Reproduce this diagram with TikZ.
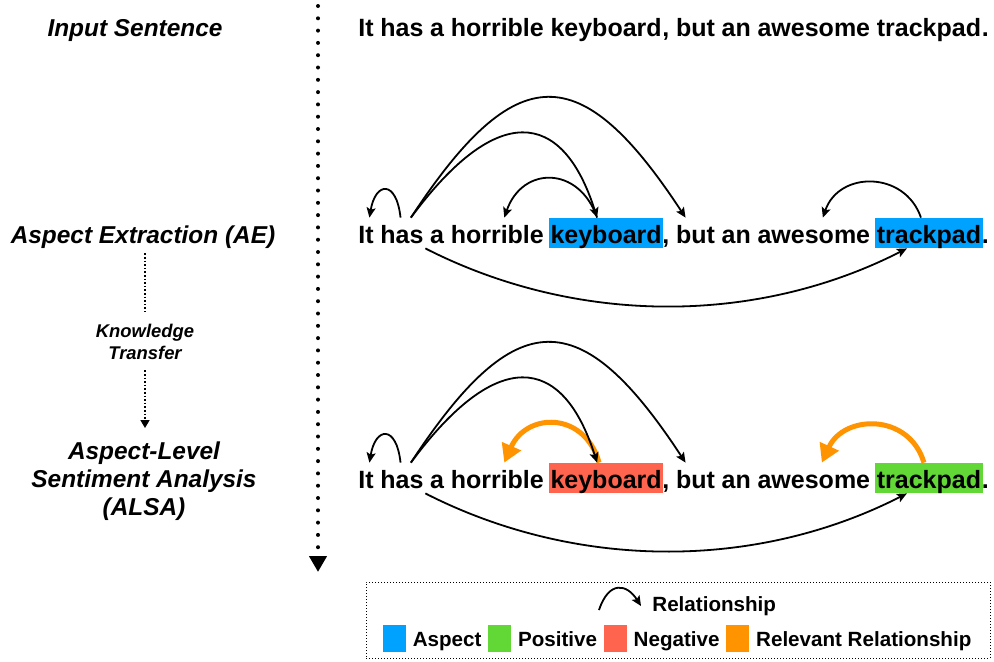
\documentclass[tikz,border=0pt]{standalone}
\usepackage{fontspec}
\setmainfont{Liberation Sans}
\usetikzlibrary{positioning,arrows.meta}

\definecolor{aspect}{HTML}{00A2FF}
\definecolor{positive}{HTML}{61D836}
\definecolor{negative}{HTML}{FF644E}
\definecolor{relevant}{HTML}{FF9300}

\newcommand\sentfont{\fontsize{12.5}{15}\selectfont\bfseries}
\newcommand\stagefont{\fontsize{12.2}{14}\selectfont\bfseries\itshape}
\newcommand\ktfont{\fontsize{9.2}{11}\selectfont\bfseries\itshape}
\newcommand\legfont{\fontsize{10.3}{12}\selectfont\bfseries}

\tikzset{
 word/.style={inner xsep=0.75pt,inner ysep=0pt,text height=12.5pt,text depth=2.5pt,font=\sentfont},
 stage/.style={inner sep=0pt,font=\stagefont,align=center},
 rel/.style={line width=0.9pt,-{Stealth[length=5pt,width=4.5pt,inset=1pt]}},
 relevant/.style={line width=2.5pt,draw=relevant,-{Triangle[length=9pt,width=10pt]}},
 transfer/.style={densely dotted,line width=0.8pt},
 timeline/.style={line width=2pt,line cap=round,dash pattern=on 0pt off 6.15pt,-{Triangle[length=8pt,width=8.5pt]}},
 legframe/.style={draw,densely dotted,line width=0.5pt},
 legtext/.style={inner sep=0pt,text height=7.5pt,text depth=0pt,font=\legfont},
 swatch/.style={inner sep=0pt,minimum width=11.5pt,minimum height=13.5pt}
}

\begin{document}
\begin{tikzpicture}[x=0.5pt,y=-0.5pt,node distance=1.45pt]
 \useasboundingbox (0,0) rectangle (994,661);

 \node[stage,anchor=base] (lbl-input) at (135,36) {Input Sentence};
 \node[stage,anchor=base] (lbl-ae) at (143,243) {Aspect Extraction (AE)};
 \node[stage,anchor=north,font=\ktfont] (lbl-kt) at (145,324) {Knowledge\\Transfer};
 \node[stage,anchor=north] (lbl-alsa) at (144,441.5) {Aspect-Level\\Sentiment Analysis\\(ALSA)};
 \draw[transfer,shorten <=2.5pt,shorten >=6pt] (lbl-ae.south -| lbl-kt.north) -- (lbl-kt.north);
 \draw[transfer,shorten <=5pt,shorten >=6.75pt,-{Triangle[length=4pt,width=4.5pt]}] (lbl-kt.south) -- (lbl-kt.south |- lbl-alsa.north);

 \coordinate (tl-top) at (318,6);
 \coordinate (tl-end) at (318,572);
 \draw[timeline] (tl-top) -- (tl-end);

 \foreach \r/\yy/\kc/\tc in {input/36/none/none,ae/243/aspect/aspect,alsa/488/negative/positive}{
  \node[word,anchor=base west] (\r-it) at (356.5,\yy) {It};
  \node[word,base right=of \r-it] (\r-has) {has};
  \node[word,base right=of \r-has] (\r-a) {a};
  \node[word,base right=of \r-a] (\r-horrible) {horrible};
  \node[word,fill=\kc,base right=of \r-horrible] (\r-keyboard) {keyboard};
  \node[word,base right=-1.5pt of \r-keyboard] (\r-comma) {,};
  \node[word,base right=of \r-comma] (\r-but) {but};
  \node[word,base right=of \r-but] (\r-an) {an};
  \node[word,base right=of \r-an] (\r-awesome) {awesome};
  \node[word,fill=\tc,base right=of \r-awesome] (\r-trackpad) {trackpad};
  \node[word,base right=-1.5pt of \r-trackpad] (\r-dot) {.};
 }

 \draw[relevant] ([xshift=-3.5pt]alsa-keyboard.north) .. controls +(-15,-52) and +(22,-50) .. ([xshift=3.5pt]alsa-horrible.north);
 \draw[relevant] ([xshift=-2.5pt]alsa-trackpad.north) .. controls +(-15,-50) and +(22,-48) .. ([xshift=4pt]alsa-awesome.north);

 \foreach \r in {ae,alsa}{
  \draw[rel] ([xshift=-0.7pt]\r-has.north) .. controls +(-4,-38) and +(6,-36) .. ([xshift=1.7pt]\r-it.north);
  \draw[rel] ([xshift=4.5pt]\r-has.north) .. controls +(85,-115) and +(-35,-110) .. ([xshift=-4.5pt]\r-keyboard.north);
  \draw[rel] ([xshift=4.5pt]\r-has.north) .. controls +(105,-160) and +(-105,-160) .. ([xshift=-5pt]\r-but.north);
  \draw[rel] (\r-has.south east) .. controls +(151,77) and +(-151,77) .. ([xshift=-11pt]\r-trackpad.south);
 }
 \draw[rel] ([xshift=-4.5pt]ae-keyboard.north) .. controls +(-18,-52) and +(18,-52) .. ([xshift=3.5pt]ae-horrible.north);
 \draw[rel] ([xshift=-4pt]ae-trackpad.north) .. controls +(-16,-47) and +(16,-47) .. ([xshift=4.5pt]ae-awesome.north);

 \node[legframe,minimum width=312pt,minimum height=38pt] (legend) at (678,620) {};
 \coordinate (rel-start) at (599,610);
 \coordinate (rel-end) at (641,606);
 \draw[rel] (rel-start) .. controls +(10,-30) and +(-14,-22) .. (rel-end);
 \node[legtext,anchor=base west] (lg-rel) at (652,611) {Relationship};
 \node[swatch,fill=aspect] (sw-aspect) at (394.5,638.5) {};
 \node[legtext,right=3pt of sw-aspect] (lg-aspect) {Aspect};
 \node[swatch,fill=positive,right=3pt of lg-aspect] (sw-positive) {};
 \node[legtext,right=3pt of sw-positive] (lg-positive) {Positive};
 \node[swatch,fill=negative,right=3pt of lg-positive] (sw-negative) {};
 \node[legtext,right=3pt of sw-negative] (lg-negative) {Negative};
 \node[swatch,fill=relevant,right=3pt of lg-negative] (sw-relevant) {};
 \node[legtext,right=3pt of sw-relevant] (lg-relevant) {Relevant Relationship};
\end{tikzpicture}
\end{document}
